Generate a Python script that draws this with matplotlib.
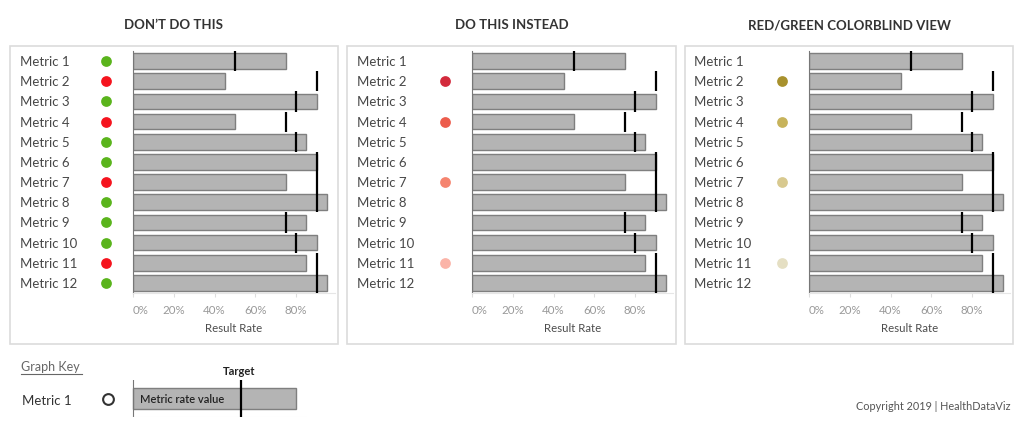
import numpy as np
import matplotlib
matplotlib.use("Agg")
import matplotlib.pyplot as plt
from matplotlib.patches import Rectangle

plt.rcParams["font.family"] = ["Lato", "DejaVu Sans"]

# ---- data ----
metrics = [f"Metric {i}" for i in range(1, 13)]
rate = [0.75, 0.45, 0.90, 0.50, 0.85, 0.90, 0.75, 0.95, 0.85, 0.90, 0.85, 0.95]
target = [0.50, 0.90, 0.80, 0.75, 0.80, 0.90, 0.90, 0.90, 0.75, 0.80, 0.90, 0.90]
titles = ["DON\u2019T DO THIS", "DO THIS INSTEAD", "RED/GREEN COLORBLIND VIEW"]
ticks = [0, 0.2, 0.4, 0.6, 0.8]
tick_labels = ["0%", "20%", "40%", "60%", "80%"]

GREEN, RED = "#5ab41c", "#f5141e"
dots_dont = [GREEN if r >= t else RED for r, t in zip(rate, target)]
dots_instead = [None, "#d32a3c", None, "#ec5c4c", None, None, "#f5846f",
                None, None, None, "#fbb4a8", None]
dots_cb = [None, "#a8912d", None, "#c7b35b", None, None, "#d8c98f",
           None, None, None, "#e5dfc3", None]
panel_dots = [dots_dont, dots_instead, dots_cb]

key_rate, key_target = 0.80, 0.53

# ---- layout in reference pixels ----
W, H = 1024, 427
fig = plt.figure(figsize=(W / 100, H / 100), dpi=100)


def frect(x0, y0, x1, y1):
    return [x0 / W, 1 - y1 / H, (x1 - x0) / W, (y1 - y0) / H]


# (box left, box right, label x, dot x, bar-axis origin x)
panels = [(10, 338, 20, 106, 133),
          (347, 676, 357, 445, 472),
          (685, 1013, 694, 782, 809)]
ROW_TOP, ROW_BOT = 52, 294
PX_PER_UNIT = 204.0
rows = np.arange(len(metrics))

for (bx0, bx1, lx, dx, ox), title, dcols in zip(panels, titles, panel_dots):
    fig.patches.append(Rectangle((bx0 / W, 1 - 345 / H), (bx1 - bx0) / W, (345 - 47) / H,
                                 transform=fig.transFigure, fill=False,
                                 edgecolor="#dcdcdc", lw=1.2))
    fig.text((bx0 + bx1) / 2 / W, 1 - 25 / H, title, ha="center", va="center",
             fontsize=9.5, weight="bold", color="#333333")

    # labels + indicator dots
    lax = fig.add_axes(frect(bx0, ROW_TOP, ox, ROW_BOT))
    lax.set_xlim(0, ox - bx0)
    lax.set_ylim(len(metrics) - 0.5, -0.5)
    lax.axis("off")
    for i, name in enumerate(metrics):
        lax.text(lx - bx0, i, name, ha="left", va="center", fontsize=9.5, color="#474747")
        if dcols[i]:
            lax.scatter([dx - bx0], [i], s=60, color=dcols[i], lw=0, zorder=3)

    # bullet bars
    ax = fig.add_axes(frect(ox, ROW_TOP, bx1 - 3, ROW_BOT))
    ax.set_xlim(0, (bx1 - 3 - ox) / PX_PER_UNIT)
    ax.set_ylim(len(metrics) - 0.5, -0.5)
    ax.barh(rows, rate, height=0.78, color="#b4b4b4", edgecolor="#7f7f7f", lw=1.0, zorder=2)
    ax.vlines(target, rows - 0.5, rows + 0.5, color="black", lw=1.6, zorder=3)
    ax.set_yticks([])
    ax.set_xticks(ticks)
    ax.set_xticklabels(tick_labels, fontsize=8.3, color="#999999")
    ax.get_xticklabels()[0].set_ha("left")
    ax.tick_params(axis="x", length=3, width=0.8, color="#dddddd", pad=5)
    for side in ("top", "right"):
        ax.spines[side].set_visible(False)
    ax.spines["left"].set_color("#777777")
    ax.spines["left"].set_linewidth(0.8)
    ax.spines["bottom"].set_color("#e6e6e6")
    ax.set_xlabel("Result Rate", fontsize=8.2, color="#4d4d4d", labelpad=5)

# ---- graph key ----
fig.text(21 / W, 1 - 367 / H, "Graph Key", ha="left", va="center", fontsize=9,
         color="#666666")
fig.lines.append(plt.Line2D([21 / W, 82 / W], [1 - 375 / H, 1 - 375 / H],
                            transform=fig.transFigure, color="#666666", lw=0.8))
fig.text(22 / W, 1 - 401 / H, "Metric 1", ha="left", va="center", fontsize=9.5,
         color="#333333")
kax = fig.add_axes(frect(100, 381, 310, 418))
kax.set_xlim(-33 / PX_PER_UNIT, 177 / PX_PER_UNIT)
kax.set_ylim(-0.5, 0.5)
kax.axis("off")
kax.scatter([-25 / PX_PER_UNIT], [0], s=60, facecolor="white", edgecolor="#333333",
            lw=1.5, zorder=3)
kax.barh([0], [key_rate], height=0.58, color="#b4b4b4", edgecolor="#7f7f7f", lw=1.0,
         zorder=2)
kax.vlines([key_target], -0.5, 0.5, color="black", lw=1.6, zorder=3)
kax.plot([0, 0], [-0.5, 0.5], color="#777777", lw=0.8)
kax.plot([0, 172 / PX_PER_UNIT], [-0.5, -0.5], color="#eeeeee", lw=0.8)
kax.text(7 / PX_PER_UNIT, 0, "Metric rate value", ha="left", va="center", fontsize=8,
         color="#222222", weight="semibold")
fig.text(239 / W, 1 - 372 / H, "Target", ha="center", va="center", fontsize=8,
         weight="bold", color="#222222")

fig.text(1010 / W, 1 - 407 / H, "Copyright 2019 | HealthDataViz", ha="right",
         va="center", fontsize=7.8, color="#555555")

fig.savefig("out.png", dpi=100, facecolor="white")
